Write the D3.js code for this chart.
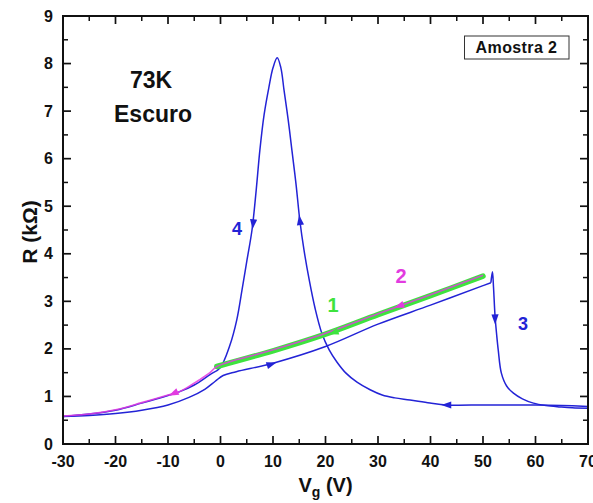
<!DOCTYPE html>
<html>
<head>
<meta charset="utf-8">
<script src="https://cdn.jsdelivr.net/npm/d3@7"></script>
<style>
  html, body { margin: 0; padding: 0; background: #fff; }
  svg { display: block; font-family: "Liberation Sans", Arial, sans-serif; }
</style>
</head>
<body>
<svg id="chart" width="593" height="503"></svg>
<script>
// Gate sweep of resistance R (kΩ) versus gate voltage Vg (V), 73 K, dark.
const xTicks = [-30, -20, -10, 0, 10, 20, 30, 40, 50, 60, 70];
const yTicks = [0, 1, 2, 3, 4, 5, 6, 7, 8, 9];

// Blue trace: forward sweep -30 V → 51.5 V
const forwardSweep = [
  [-30, 0.58], [-25, 0.60], [-20, 0.64], [-15, 0.71], [-10, 0.82], [-6, 0.98],
  [-3, 1.15], [-1, 1.32], [0.5, 1.44], [3, 1.52], [10, 1.70], [20, 2.05],
  [30, 2.52], [40, 2.92], [50, 3.33], [51.5, 3.39]
];
// Blue trace: switching drop (3) and continuation to 70 V
const dropSweep = [
  [51.5, 3.39], [51.8, 3.62], [52.0, 3.30], [52.3, 2.68], [52.6, 2.30],
  [52.9, 1.98], [53.5, 1.49], [54.5, 1.22], [55.8, 1.07], [57.5, 0.95],
  [59.6, 0.86], [62, 0.81], [64.7, 0.78], [67, 0.76], [70, 0.75]
];
// Blue trace: return sweep 70 V → -30 V through the peak (4)
const returnSweep = [
  [70, 0.79], [65, 0.81], [60, 0.82], [55, 0.82], [50, 0.82], [43.1, 0.82],
  [39.9, 0.86], [36.1, 0.925], [33.2, 0.97], [30.8, 1.03], [28.5, 1.14],
  [26.0, 1.30], [23.9, 1.49], [22.2, 1.72], [20.7, 1.98], [19.3, 2.33],
  [18.0, 2.86], [16.9, 3.45], [15.9, 4.08], [15.1, 4.71], [14.4, 5.45],
  [13.6, 6.18], [12.9, 6.81], [12.1, 7.44], [11.5, 7.91], [10.8, 8.12],
  [10.0, 7.91], [9.2, 7.49], [8.3, 6.92], [7.5, 6.18], [6.8, 5.34],
  [6.0, 4.50], [5.05, 3.87], [4.1, 3.24], [3.1, 2.61], [1.8, 2.08],
  [-0.1, 1.60], [-2, 1.46], [-5, 1.24], [-8, 1.09], [-10, 1.02],
  [-15, 0.86], [-20, 0.71], [-25, 0.63], [-30, 0.58]
];
// Green trace (1): 0 V → 50 V
const sweepOne = [
  [-0.7, 1.63], [10, 1.96], [20, 2.31], [30, 2.72], [40, 3.12], [50, 3.53]
];
// Magenta trace (2): 50 V → -30 V
const sweepTwo = [
  [50, 3.55], [40, 3.14], [30, 2.74], [20, 2.33], [10, 1.98], [-0.7, 1.63],
  [-2, 1.50], [-4, 1.35], [-6, 1.21], [-8, 1.09], [-10, 1.03], [-15, 0.87],
  [-20, 0.72], [-25, 0.63], [-30, 0.59]
];

const svg = d3.select("#chart");
const margin = { left: 63, right: 5, top: 16, bottom: 59 };
const W = 593, H = 503;
const x = d3.scaleLinear().domain([-30, 70]).range([margin.left, W - margin.right]);
const y = d3.scaleLinear().domain([0, 9]).range([H - margin.bottom, margin.top]);

const BLUE = "#2323d6", GREEN = "#3ee33e", MAGENTA = "#e23be0";

const line = d3.line().x(d => x(d[0])).y(d => y(d[1])).curve(d3.curveCatmullRom.alpha(0.5));

const plot = svg.append("g");
[forwardSweep, dropSweep, returnSweep].forEach(seg => {
  plot.append("path").datum(seg).attr("d", line)
    .attr("fill", "none").attr("stroke", BLUE).attr("stroke-width", 1.5)
    .attr("stroke-linejoin", "round");
});
plot.append("path").datum(sweepOne).attr("d", line)
  .attr("fill", "none").attr("stroke", GREEN).attr("stroke-width", 5.5).attr("stroke-linecap", "round");
plot.append("path").datum(sweepTwo).attr("d", line)
  .attr("fill", "none").attr("stroke", MAGENTA).attr("stroke-width", 1.6).attr("stroke-opacity", 0.85);

// direction arrows: [V, R, dV, dR] with the heading given in data units
function arrow(V, R, dV, dR, color) {
  const px = x(V), py = y(R);
  const ang = Math.atan2(y(R + dR) - py, x(V + dV) - px) * 180 / Math.PI;
  plot.append("path")
    .attr("d", "M5,0 L-5,-3.6 L-5,3.6 Z")
    .attr("transform", `translate(${px},${py}) rotate(${ang})`)
    .attr("fill", color);
}
arrow(9.75, 1.68, 1, 0.035, BLUE);
arrow(52.3, 2.62, 0.1, -1, BLUE);
arrow(43, 0.82, -1, 0, BLUE);
arrow(15.1, 4.71, -0.8, 0.63, BLUE);
arrow(6.2, 4.62, -0.8, -0.84, BLUE);
arrow(21.5, 2.34, -1, -0.037, GREEN);
arrow(34, 2.90, -1, -0.04, MAGENTA);
arrow(-9, 1.06, -1, -0.05, MAGENTA);

// axes frame
const ax = svg.append("g").attr("stroke", "#111").attr("fill", "none");
ax.append("rect")
  .attr("x", x(-30)).attr("y", y(9))
  .attr("width", x(70) - x(-30)).attr("height", y(0) - y(9))
  .attr("stroke-width", 2);

const xMinor = d3.range(-25, 70, 10);
const yMinor = d3.range(0.5, 9, 1);
const MAJ = 8, MIN = 5;
xTicks.forEach(v => {
  ax.append("line").attr("x1", x(v)).attr("x2", x(v)).attr("y1", y(0)).attr("y2", y(0) - MAJ).attr("stroke-width", 1.7);
  ax.append("line").attr("x1", x(v)).attr("x2", x(v)).attr("y1", y(9)).attr("y2", y(9) + MAJ).attr("stroke-width", 1.7);
});
xMinor.forEach(v => {
  ax.append("line").attr("x1", x(v)).attr("x2", x(v)).attr("y1", y(0)).attr("y2", y(0) - MIN).attr("stroke-width", 1.5);
  ax.append("line").attr("x1", x(v)).attr("x2", x(v)).attr("y1", y(9)).attr("y2", y(9) + MIN).attr("stroke-width", 1.5);
});
yTicks.forEach(v => {
  ax.append("line").attr("x1", x(-30)).attr("x2", x(-30) + MAJ).attr("y1", y(v)).attr("y2", y(v)).attr("stroke-width", 1.7);
  ax.append("line").attr("x1", x(70)).attr("x2", x(70) - MAJ).attr("y1", y(v)).attr("y2", y(v)).attr("stroke-width", 1.7);
});
yMinor.forEach(v => {
  ax.append("line").attr("x1", x(-30)).attr("x2", x(-30) + MIN).attr("y1", y(v)).attr("y2", y(v)).attr("stroke-width", 1.5);
  ax.append("line").attr("x1", x(70)).attr("x2", x(70) - MIN).attr("y1", y(v)).attr("y2", y(v)).attr("stroke-width", 1.5);
});

// sample label box
svg.append("rect").attr("x", 464.5).attr("y", 36).attr("width", 104.5).attr("height", 23)
  .attr("fill", "#fff").attr("stroke", "#333").attr("stroke-width", 1);

// tick labels
const txt = svg.append("g").attr("fill", "#111").attr("font-weight", "bold");
xTicks.forEach(v => {
  txt.append("text").attr("x", x(v)).attr("y", y(0) + 23)
    .attr("text-anchor", "middle").attr("font-size", 16).text(v);
});
yTicks.forEach(v => {
  txt.append("text").attr("x", x(-30) - 10).attr("y", y(v) + 5.5)
    .attr("text-anchor", "end").attr("font-size", 16).text(v);
});

// axis titles
const xt = txt.append("text").attr("x", (x(-30) + x(70)) / 2).attr("y", 492)
  .attr("text-anchor", "middle").attr("font-size", 20);
xt.append("tspan").text("V");
xt.append("tspan").attr("font-size", 14).attr("dy", 5).text("g");
xt.append("tspan").attr("dy", -5).text(" (V)");

txt.append("text")
  .attr("transform", `translate(37,${(y(0) + y(9)) / 2 + 2}) rotate(-90)`)
  .attr("text-anchor", "middle").attr("font-size", 21).text("R (kΩ)");

// annotations
txt.append("text").attr("x", 151).attr("y", 88).attr("text-anchor", "middle").attr("font-size", 23).text("73K");
txt.append("text").attr("x", 153).attr("y", 122).attr("text-anchor", "middle").attr("font-size", 23).text("Escuro");
txt.append("text").attr("x", 516.5).attr("y", 53).attr("text-anchor", "middle")
  .attr("font-size", 16).attr("letter-spacing", 0.4).text("Amostra 2");

svg.append("text").attr("x", 237).attr("y", 235).attr("text-anchor", "middle")
  .attr("font-size", 18).attr("font-weight", "bold").attr("fill", BLUE).text("4");
svg.append("text").attr("x", 523).attr("y", 330).attr("text-anchor", "middle")
  .attr("font-size", 18).attr("font-weight", "bold").attr("fill", BLUE).text("3");
svg.append("text").attr("x", 333).attr("y", 312).attr("text-anchor", "middle")
  .attr("font-size", 20).attr("font-weight", "bold").attr("fill", GREEN).text("1");
svg.append("text").attr("x", 401).attr("y", 283).attr("text-anchor", "middle")
  .attr("font-size", 20).attr("font-weight", "bold").attr("fill", MAGENTA).text("2");
</script>
</body>
</html>
